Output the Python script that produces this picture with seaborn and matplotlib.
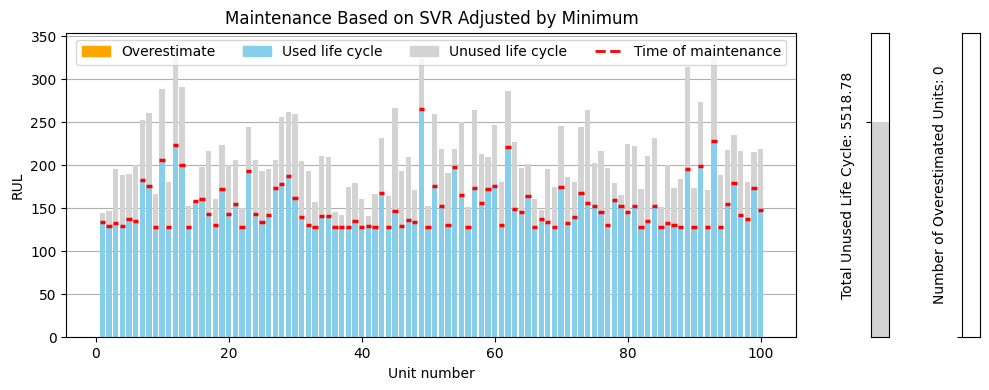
import numpy as np
import pandas as pd
import matplotlib
matplotlib.use("Agg")
import matplotlib.pyplot as plt
import seaborn as sns
from matplotlib.patches import Patch
from matplotlib.lines import Line2D

# true RUL per unit (full bar height) and the cycle at which maintenance happened
units = list(range(1, 101))
true_rul = [144, 147, 196, 189, 190, 200, 252, 261, 166, 289,
            180, 337, 291, 153, 160, 198, 216, 161, 223, 200,
            206, 150, 244, 206, 193, 196, 206, 256, 262, 259,
            205, 193, 157, 211, 210, 146, 142, 175, 179, 161,
            141, 166, 232, 164, 266, 193, 209, 171, 324, 153,
            259, 219, 191, 219, 250, 151, 264, 213, 209, 247,
            180, 286, 227, 197, 201, 161, 148, 196, 175, 246,
            186, 181, 244, 264, 202, 216, 197, 179, 165, 224,
            222, 172, 211, 231, 151, 200, 173, 184, 314, 174,
            273, 171, 330, 189, 218, 235, 217, 180, 215, 219]
maint_time = [134, 129, 133, 129, 137, 135, 183, 176, 128, 206,
              128, 223, 200, 128, 158, 161, 143, 130, 172, 143,
              155, 128, 193, 143, 134, 142, 173, 178, 187, 162,
              140, 131, 128, 141, 141, 128, 128, 128, 135, 128,
              129, 128, 168, 128, 147, 129, 136, 134, 265, 128,
              176, 152, 130, 198, 165, 128, 173, 156, 172, 176,
              131, 221, 149, 145, 164, 128, 137, 134, 128, 175,
              133, 140, 168, 156, 152, 146, 130, 159, 153, 145,
              153, 128, 135, 153, 128, 133, 131, 128, 195, 128,
              199, 128, 228, 128, 155, 179, 142, 137, 173, 148]
total_unused = 5518.78
n_overestimated = 0

df = pd.DataFrame({"unit": units, "true_rul": true_rul, "used": maint_time})
df["over"] = np.maximum(df["used"] - df["true_rul"], 0)

fig = plt.figure(figsize=(9.89, 3.9), dpi=100)
ax = fig.add_axes([0.0672, 0.1351, 0.7381, 0.781])
ax1 = fig.add_axes([0.8802, 0.1351, 0.0182, 0.781])
ax2 = fig.add_axes([0.9727, 0.1351, 0.0182, 0.781])

bar_kw = dict(native_scale=True, saturation=1, linewidth=0, edgecolor="none", ax=ax)
sns.barplot(data=df, x="unit", y="true_rul", color="lightgray", **bar_kw)
sns.barplot(data=df, x="unit", y="used", color="skyblue", **bar_kw)
sns.barplot(data=df, x="unit", y="over", color="orange", **bar_kw)
ax.hlines(df["used"], df["unit"] - 0.4, df["unit"] + 0.4,
          colors="red", linestyles="--", linewidth=2.5, zorder=3)

ax.set_axisbelow(True)
ax.grid(axis="y")
ax.set_title("Maintenance Based on SVR Adjusted by Minimum")
ax.set_xlabel("Unit number")
ax.set_ylabel("RUL")

handles = [Patch(color="orange", label="Overestimate"),
           Patch(color="skyblue", label="Used life cycle"),
           Patch(color="lightgray", label="Unused life cycle"),
           Line2D([0], [0], color="red", linestyle="--", linewidth=2,
                  label="Time of maintenance")]
ax.legend(handles=handles, loc="upper center", ncol=4)

# side panels with the totals
ax1.bar([0], [total_unused], width=1, color="lightgray")
ax1.set_xlim(-0.5, 0.5)
ax1.set_ylim(0, 7820)
ax1.set_xticks([])
ax1.set_yticks([total_unused])
ax1.set_yticklabels([])
ax1.set_ylabel(f"Total Unused Life Cycle: {total_unused}")

ax2.bar([0], [n_overestimated], width=1, color="orange")
ax2.set_xlim(-0.5, 0.5)
ax2.set_ylim(0, 1)
ax2.set_xticks([])
ax2.set_yticks([n_overestimated])
ax2.set_yticklabels([])
ax2.set_ylabel(f"Number of Overestimated Units: {n_overestimated}")

fig.savefig("out.png", dpi=100)
